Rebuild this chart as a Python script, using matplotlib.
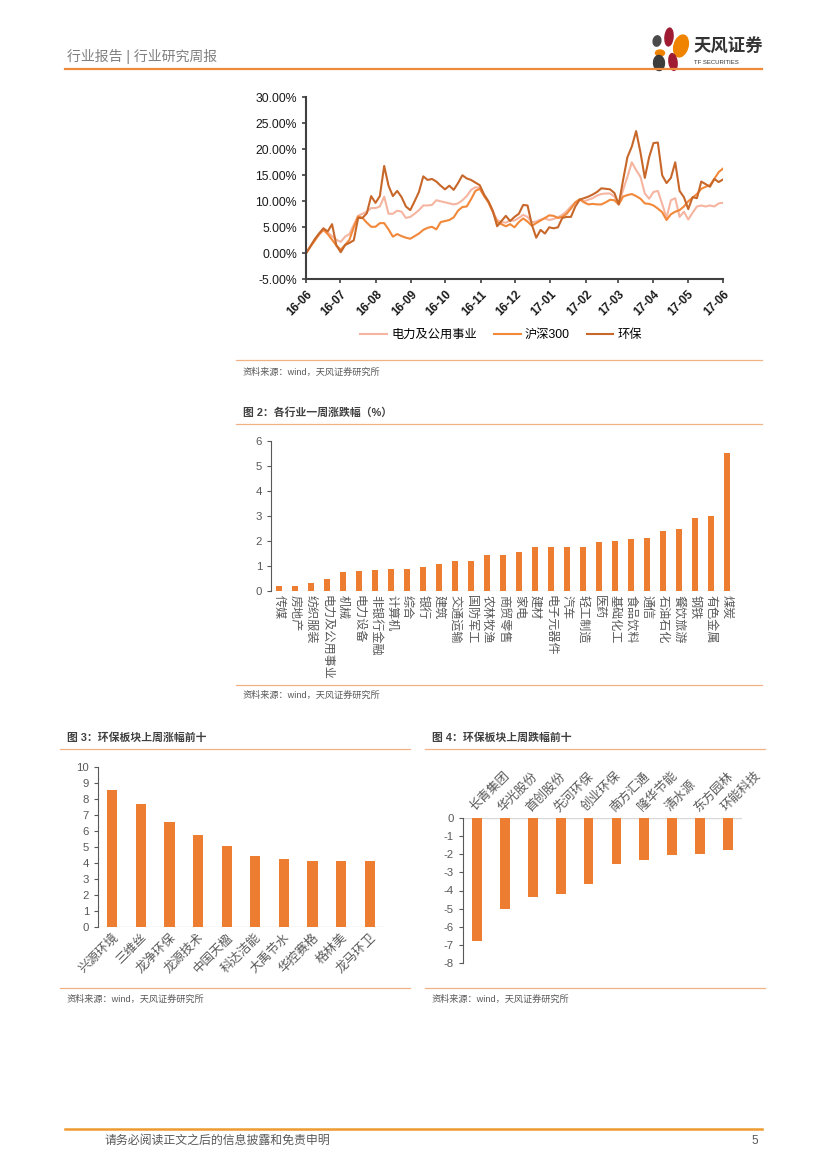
import matplotlib.pyplot as plt
import matplotlib.dates as mdates
from matplotlib.patches import Ellipse
from matplotlib.lines import Line2D
from matplotlib.ticker import FuncFormatter
import pandas as pd

plt.rcParams['font.family'] = ['Liberation Sans', 'Noto Sans CJK SC']
plt.rcParams['axes.unicode_minus'] = False

W, H = 827, 1169

# 图1: 相对收益走势 (%)
dates = pd.date_range('2016-06-01', '2017-06-01', periods=97)
utility = [0, 1.3, 2.6, 3.5, 4.5, 4.0, 3.3, 2.6, 2.2, 3.2, 3.7, 5.5, 7.2, 7.6, 8.0, 8.7,
           8.7, 9.0, 10.9, 7.6, 7.6, 8.2, 8.0, 6.8, 7.0, 7.6, 8.3, 9.2, 9.2, 9.3, 10.2, 10.0,
           9.8, 9.6, 9.4, 9.6, 10.2, 11.0, 12.2, 12.7, 12.6, 11.2, 9.8, 8.0, 6.4, 6.0, 5.9, 6.3,
           6.3, 6.8, 7.4, 7.0, 6.0, 6.1, 6.5, 6.7, 6.4, 6.6, 6.9, 7.4, 8.1, 9.0, 9.8, 10.3,
           10.0, 10.3, 10.6, 11.1, 11.4, 11.5, 11.5, 10.9, 9.4, 12.2, 14.7, 17.5, 16.0, 14.7, 11.5, 10.5,
           11.8, 12.0, 9.5, 6.8, 10.2, 10.6, 7.0, 8.0, 6.5, 7.8, 9.0, 9.2, 9.0, 9.2, 9.0, 9.6, 9.7]
hs300 = [0, 1.3, 2.4, 3.7, 4.5, 3.7, 2.6, 1.5, 0.7, 1.6, 2.6, 5.0, 7.1, 6.8, 5.9, 5.1,
         5.1, 5.8, 5.8, 4.6, 3.2, 3.7, 3.3, 3.0, 2.8, 3.3, 3.8, 4.5, 4.9, 5.1, 4.6, 6.0,
         6.2, 6.4, 6.9, 8.2, 8.9, 9.0, 10.4, 12.0, 12.4, 11.0, 9.8, 8.0, 6.0, 5.6, 5.2, 5.6,
         5.0, 6.0, 6.7, 6.1, 5.3, 5.8, 6.3, 6.8, 7.3, 7.2, 6.8, 7.0, 7.6, 8.6, 9.8, 10.4,
         9.8, 9.4, 9.5, 9.4, 9.4, 9.8, 10.3, 10.2, 9.4, 10.9, 11.2, 11.4, 11.0, 10.5, 9.6, 9.5,
         9.2, 8.6, 7.9, 6.4, 7.5, 8.0, 8.3, 9.0, 10.0, 10.7, 11.4, 12.4, 12.8, 13.1, 14.3, 15.6, 16.3]
env = [0, 1.3, 2.7, 3.8, 4.8, 4.2, 5.6, 1.5, 0.2, 1.6, 2.0, 2.5, 6.8, 6.8, 7.7, 11.0,
       9.7, 11.0, 16.8, 13.0, 11.0, 12.0, 10.8, 9.0, 8.3, 10.0, 11.8, 14.8, 14.1, 14.3, 13.8, 13.0,
       12.3, 13.0, 12.2, 13.5, 15.0, 14.4, 14.1, 13.6, 13.1, 11.3, 10.0, 8.2, 5.2, 6.2, 7.2, 6.2,
       7.0, 7.6, 9.3, 9.2, 5.5, 3.0, 4.5, 3.8, 5.0, 4.8, 5.0, 6.8, 7.0, 7.0, 9.0, 10.3,
       10.6, 10.9, 11.3, 11.8, 12.5, 12.4, 12.3, 11.6, 9.4, 14.1, 18.5, 20.5, 23.5, 19.4, 14.5, 18.5,
       21.2, 21.3, 15.0, 13.5, 14.5, 17.5, 12.0, 10.8, 8.5, 10.8, 10.6, 13.8, 13.3, 12.8, 14.3, 13.7, 14.2]

# 图2: 各行业一周涨跌幅 (%)
industries = ['传媒', '房地产', '纺织服装', '电力及公用事业', '机械', '电力设备', '非银行金融',
              '计算机', '综合', '银行', '建筑', '交通运输', '国防军工', '农林牧渔', '商贸零售',
              '家电', '建材', '电子元器件', '汽车', '轻工制造', '医药', '基础化工', '食品饮料',
              '通信', '石油石化', '餐饮旅游', '钢铁', '有色金属', '煤炭']
ind_chg = [0.19, 0.21, 0.33, 0.49, 0.75, 0.81, 0.83, 0.87, 0.88, 0.96, 1.09, 1.20, 1.21, 1.45,
           1.45, 1.55, 1.75, 1.76, 1.76, 1.76, 1.97, 1.99, 2.08, 2.11, 2.41, 2.47, 2.93, 3.01, 5.51]

# 图3: 环保板块上周涨幅前十
top_names = ['兴源环境', '三维丝', '龙净环保', '龙源技术', '中国天楹',
             '科达洁能', '大禹节水', '华控赛格', '格林美', '龙马环卫']
top_chg = [8.58, 7.67, 6.58, 5.73, 5.04, 4.44, 4.27, 4.15, 4.10, 4.10]

# 图4: 环保板块上周跌幅前十
bot_names = ['长青集团', '华光股份', '首创股份', '先河环保', '创业环保',
             '南方汇通', '隆华节能', '清水源', '东方园林', '环能科技']
bot_chg = [-6.76, -5.04, -4.36, -4.18, -3.64, -2.56, -2.34, -2.03, -1.98, -1.74]

BAR = '#ED7D31'
GREY = '#595959'
RULE = '#F4B183'

fig = plt.figure(figsize=(W / 100, H / 100), dpi=100)


def fx(x):
    return x / W


def fy(y):
    return 1 - y / H


def hline(x0, x1, y, color=RULE, lw=0.9):
    fig.add_artist(Line2D([fx(x0), fx(x1)], [fy(y), fy(y)], color=color, lw=lw))


def box(l, t, r, b):
    return fig.add_axes([fx(l), fy(b), (r - l) / W, (b - t) / H])


def source(x, y):
    fig.text(fx(x), fy(y), '资料来源：wind，天风证券研究所', fontsize=6.6, color=GREY, va='center')


def title(x, y, s):
    fig.text(fx(x), fy(y), s, fontsize=7.8, color='#404040', va='center', fontweight='bold')


# header / footer
fig.text(fx(67), fy(57), '行业报告 | 行业研究周报', fontsize=10, color='#7F7F7F', va='center')
hline(65, 762, 68.5, color='#EE8A3A', lw=1.6)
for (cx, cy, w, h, a, c) in [(669, 37, 8, 18, -10, '#9E1B32'), (681, 46, 13, 24, -40, '#F08300'),
                             (657, 41, 8, 10, 30, '#4A4A4A'), (660, 53, 9, 6, 0, '#F08300'),
                             (673, 62, 8, 17, 15, '#9E1B32'), (659, 63, 11, 15, -30, '#3C3C3C')]:
    fig.add_artist(Ellipse((fx(cx), fy(cy)), w / W, h / H, angle=a, color=c))
fig.text(fx(693), fy(46), '天风证券', fontsize=12.5, color='#333333', va='center', fontweight='bold')
fig.text(fx(694), fy(63), 'TF SECURITIES', fontsize=4.3, color='#333333', va='center')

hline(65, 762, 1129, color='#EE9A30', lw=1.8)
fig.text(fx(105), fy(1141), '请务必阅读正文之后的信息披露和免责申明', fontsize=8.6, color=GREY, va='center')
fig.text(fx(752), fy(1141), '5', fontsize=8.6, color=GREY, va='center')

# ---- 图1 line chart
ax1 = box(306, 97.3, 723, 279.3)
ax1.plot(dates, utility, color='#F5B5A0', lw=1.5, label='电力及公用事业')
ax1.plot(dates, hs300, color='#F2883A', lw=1.5, label='沪深300')
ax1.plot(dates, env, color='#C8672A', lw=1.5, label='环保')
ax1.set_ylim(-5, 30)
ax1.set_yticks(range(-5, 31, 5))
ax1.yaxis.set_major_formatter(FuncFormatter(lambda v, p: f'{v:.2f}%'))
ax1.set_xlim(dates[0], dates[-1])
ax1.xaxis.set_major_locator(mdates.MonthLocator())
ax1.xaxis.set_major_formatter(mdates.DateFormatter('%y-%m'))
for s in ['top', 'right']:
    ax1.spines[s].set_visible(False)
for s in ['left', 'bottom']:
    ax1.spines[s].set_color('#404040')
    ax1.spines[s].set_linewidth(1.5)
ax1.tick_params(colors='#404040', width=1.2, length=3, labelsize=8.8, labelcolor='#1A1A1A')
for lab in ax1.get_xticklabels():
    lab.set_rotation(45)
    lab.set_ha('right')
    lab.set_rotation_mode('anchor')
    lab.set_fontweight('bold')
    lab.set_fontsize(8.5)
fig.legend(loc='center', bbox_to_anchor=(fx(501), fy(335)), ncol=3, frameon=False, fontsize=8.8,
           handlelength=2.2, handletextpad=0.3, columnspacing=1.4)
hline(236, 762, 359.5)
source(243, 372)

# ---- 图2 industries
title(243, 413, '图 2：各行业一周涨跌幅（%）')
hline(236, 762, 424)
ax2 = box(271, 441, 735, 591)
ax2.bar(range(len(industries)), ind_chg, width=0.36, color=BAR)
ax2.set_xlim(-0.5, len(industries) - 0.5)
ax2.set_ylim(0, 6)
ax2.set_xticks(range(len(industries)))
ax2.set_xticklabels(industries, rotation=-90, va='top', ha='center', fontsize=8.7, color=GREY)
hline(236, 762, 685)
source(243, 695)

# ---- 图3 top gainers
title(67, 738, '图 3：环保板块上周涨幅前十')
hline(60, 410, 749)
ax3 = box(98, 767, 384, 927)
ax3.bar(range(len(top_names)), top_chg, width=0.35, color=BAR)
ax3.set_xlim(-0.5, len(top_names) - 0.5)
ax3.set_ylim(0, 10)
ax3.set_yticks(range(0, 11))
ax3.set_xticks(range(len(top_names)))
ax3.set_xticklabels(top_names, rotation=45, ha='right', rotation_mode='anchor', fontsize=9,
                    color=GREY)
hline(60, 410, 988)
source(67, 999)

# ---- 图4 top losers
title(432, 738, '图 4：环保板块上周跌幅前十')
hline(425, 765, 749)
ax4 = box(463, 818, 742, 963)
ax4.bar(range(len(bot_names)), bot_chg, width=0.35, color=BAR)
ax4.set_xlim(-0.5, len(bot_names) - 0.5)
ax4.set_ylim(-8, 0)
ax4.set_yticks(range(-8, 1))
ax4.set_xticks(range(len(bot_names)))
ax4.xaxis.tick_top()
ax4.set_xticklabels(bot_names, rotation=45, ha='left', rotation_mode='anchor', fontsize=9,
                    color=GREY)
hline(425, 765, 988)
source(432, 999)

for ax in (ax2, ax3, ax4):
    for s in ['top', 'right', 'bottom']:
        ax.spines[s].set_visible(False)
    ax.spines['left'].set_color('#595959')
    ax.tick_params(axis='y', colors='#595959', length=3, labelsize=8.2, labelcolor=GREY)
    ax.tick_params(axis='x', length=0, pad=3)
    ax.axhline(0, color='#D9D9D9', lw=1.0, zorder=0)

fig.savefig('out.png', dpi=100)
